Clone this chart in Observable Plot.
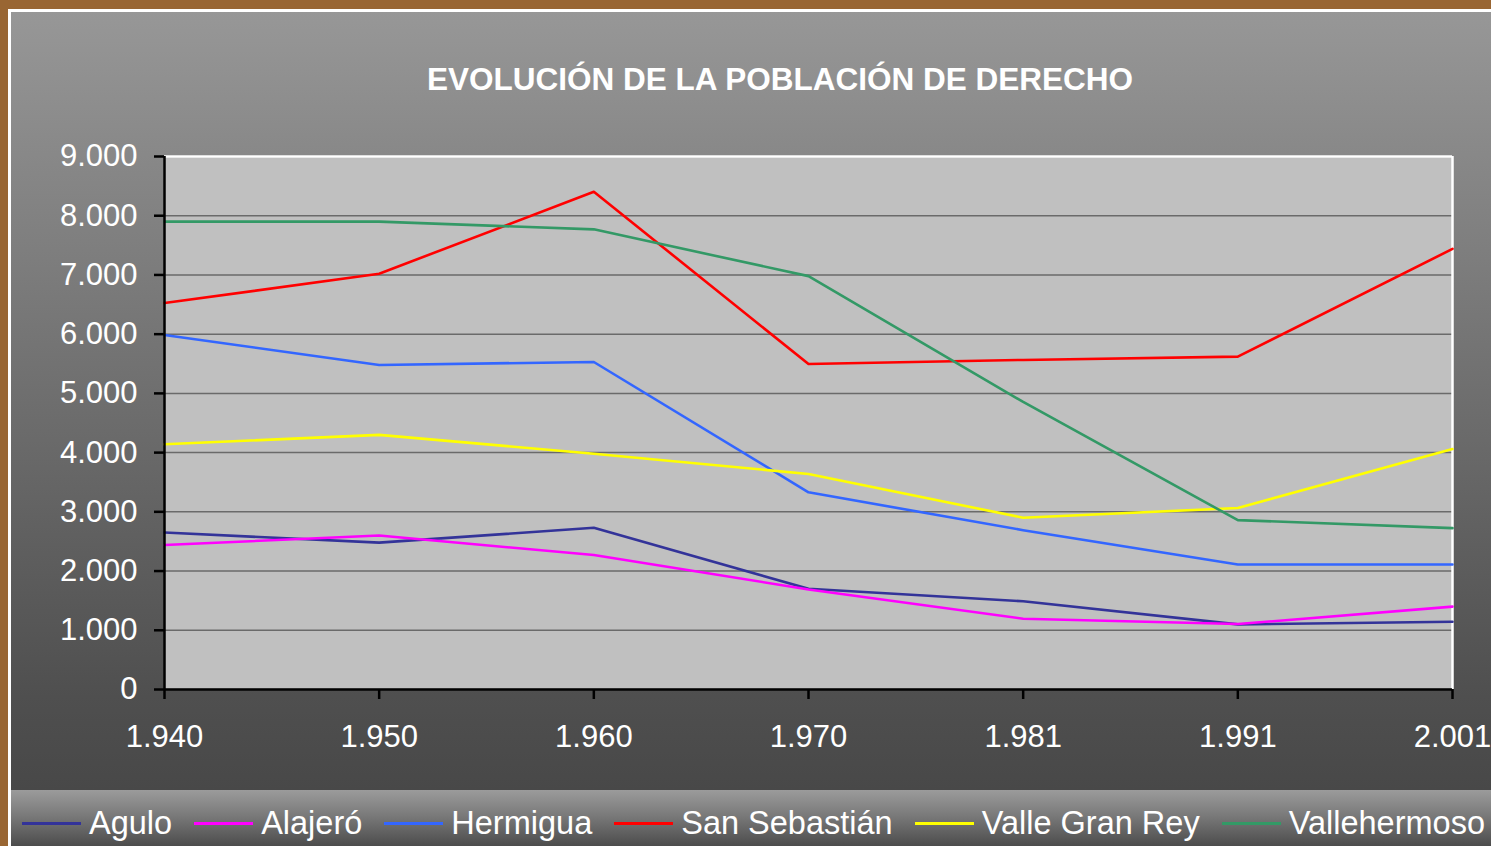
<!DOCTYPE html>
<html>
<head>
<meta charset="utf-8">
<script src="https://cdn.jsdelivr.net/npm/d3@7"></script>
<script src="https://cdn.jsdelivr.net/npm/@observablehq/plot@0.6"></script>
<style>
  html, body { margin: 0; padding: 0; }
  body { width: 1491px; height: 846px; background: #996633; position: relative; overflow: hidden;
         font-family: "Liberation Sans", Arial, sans-serif; }
  #frame { position: absolute; left: 8px; top: 9px; width: 1483px; height: 837px; background: #ffffff; }
  #panel { position: absolute; left: 11px; top: 12px; width: 1480px; height: 778px;
           background: linear-gradient(to bottom, #979797 0%, #4f4f4f 88%, #484848 100%); }
  #title { position: absolute; top: 52px; left: 769px; transform: translateX(-50%); white-space: nowrap;
           color: #fff; font-weight: bold; font-size: 31.5px; line-height: 31.5px; }
  #chart { position: absolute; left: 0; top: 130px; }
  #legend { position: absolute; left: 11px; top: 790px; width: 1480px; height: 56px;
            background: linear-gradient(to bottom, #9b9b9b 0%, #7a7a7a 45%, #4c4c4c 100%);
            display: flex; justify-content: space-between; align-items: center;
            box-sizing: border-box; padding-left: 11px; padding-right: 6px; padding-top: 9px; }
  .item { display: flex; align-items: center; white-space: nowrap; }
  .swatch { width: 59px; height: 3px; margin-right: 8px; margin-top: 2px; }
  .label { color: #fff; font-size: 32.5px; line-height: 32px; }
</style>
</head>
<body>
<div id="frame"></div>
<div id="panel">
  <div id="title"></div>
  <div id="chart"></div>
</div>
<div id="legend"></div>
<script>
const title = "EVOLUCIÓN DE LA POBLACIÓN DE DERECHO";
const years = ["1.940", "1.950", "1.960", "1.970", "1.981", "1.991", "2.001"];
const seriesNames = ["Agulo", "Alajeró", "Hermigua", "San Sebastián", "Valle Gran Rey", "Vallehermoso"];
const seriesColors = ["#333399", "#ff00ff", "#3366ff", "#ff0000", "#ffff00", "#339966"];
const agulo        = [2650, 2480, 2730, 1700, 1490, 1100, 1145];
const alajero      = [2440, 2600, 2270, 1690, 1195, 1105, 1400];
const hermigua     = [5985, 5480, 5530, 3330, 2690, 2110, 2110];
const sanSebastian = [6525, 7020, 8405, 5495, 5565, 5620, 7440];
const valleGranRey = [4140, 4300, 3980, 3640, 2900, 3065, 4060];
const vallehermoso = [7900, 7900, 7770, 6980, 4855, 2860, 2725];
const yTicks = [0, 1000, 2000, 3000, 4000, 5000, 6000, 7000, 8000, 9000];
const yTickLabels = ["0", "1.000", "2.000", "3.000", "4.000", "5.000", "6.000", "7.000", "8.000", "9.000"];

const seriesValues = [agulo, alajero, hermigua, sanSebastian, valleGranRey, vallehermoso];
const rows = [];
seriesNames.forEach((name, i) => {
  years.forEach((yr, j) => rows.push({series: name, year: yr, value: seriesValues[i][j]}));
});

document.getElementById("title").textContent = title;

const chart = Plot.plot({
  width: 1480,
  height: 660,
  marginTop: 14,
  marginBottom: 113,
  marginLeft: 153,
  marginRight: 39,
  style: {background: "transparent", color: "#fff", fontFamily: "'Liberation Sans', Arial, sans-serif", fontSize: "31px", overflow: "visible"},
  x: {type: "point", domain: years, padding: 0, round: false},
  y: {domain: [0, 9000]},
  color: {domain: seriesNames, range: seriesColors},
  marks: [
    Plot.frame({fill: "#c0c0c0", stroke: null}),
    Plot.gridY(yTicks, {stroke: "#6a6a6a", strokeOpacity: 1, strokeWidth: 1.5}),
    Plot.ruleY([9000], {stroke: "#ffffff", strokeWidth: 2.5}),
    Plot.ruleX([years[years.length - 1]], {stroke: "#ffffff", strokeWidth: 2.5}),
    Plot.line(rows, {x: "year", y: "value", z: "series", stroke: "series", strokeWidth: 2.6}),
    Plot.ruleY([0], {stroke: "#000", strokeWidth: 2.5}),
    Plot.ruleX([years[0]], {stroke: "#000", strokeWidth: 2.5}),
    Plot.axisY({ticks: yTicks, tickFormat: (d) => yTickLabels[yTicks.indexOf(d)], tickSize: 10, tickPadding: 17,
                color: "#fff", stroke: "#000", strokeWidth: 2.5, fontSize: 31, label: null}),
    Plot.axisX({ticks: years, tickSize: 10, tickPadding: 25, color: "#fff", stroke: "#000", strokeWidth: 2.5,
                fontSize: 31, label: null})
  ]
});
document.getElementById("chart").appendChild(chart);

const legend = document.getElementById("legend");
seriesNames.forEach((name, i) => {
  const item = document.createElement("div");
  item.className = "item";
  const sw = document.createElement("div");
  sw.className = "swatch";
  sw.style.background = seriesColors[i];
  const lb = document.createElement("span");
  lb.className = "label";
  lb.textContent = name;
  item.appendChild(sw);
  item.appendChild(lb);
  legend.appendChild(item);
});
</script>
</body>
</html>
